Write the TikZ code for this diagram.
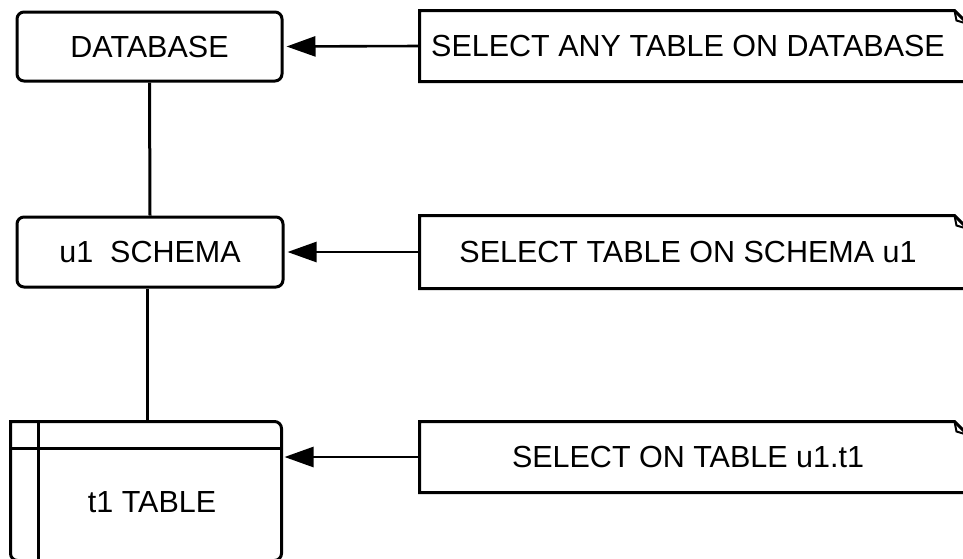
\documentclass[tikz,border=0pt]{standalone}
\usepackage{fontspec}
\setmainfont{Liberation Sans}
\usetikzlibrary{arrows.meta}

\begin{document}
\begin{tikzpicture}[x=1pt,y=-1pt,line width=3pt,
  box/.style={draw,rounded corners=7pt,minimum width=265pt,minimum height=69pt,font=\fontsize{30.5}{35}\selectfont},
  note/.style={minimum width=534pt,minimum height=68pt,font=\fontsize{30.5}{35}\selectfont},
  arr/.style={line width=2.6pt,-{Triangle[length=29pt,width=20pt]},shorten >=3pt}]
\useasboundingbox (0,0) rectangle (963,558);
\clip (0,0) rectangle (963,558);

% left column
\node[box] (db) at (149.5,46.5) {DATABASE};
\node[box,minimum width=266pt,minimum height=70pt] (schema) at (150,252) {u1\ \ SCHEMA};
\node[minimum width=268pt,minimum height=136pt] (tblbox) at (146,491) {};
\node[font=\fontsize{30.5}{35}\selectfont] (tbl) at (152,502) {t1 TABLE};
\draw[rounded corners=7pt,line cap=rect] (tblbox.north west) -- (tblbox.north east) -- (tblbox.south east) -- (tblbox.south west) -- (tblbox.north west);
\draw ([yshift=-27pt]tblbox.north west) -- ([yshift=-27pt]tblbox.north east);
\draw ([xshift=28pt]tblbox.north west) -- ([xshift=28pt]tblbox.south west);

\draw (db.south) -- (schema.north);
\draw ([xshift=-3pt]schema.south) -- ([xshift=-3pt]schema.south |- tblbox.north);

% notes
\node[note] (n1) at (688,46) {SELECT ANY TABLE ON DATABASE};
\node[note,minimum height=70pt] (n2) at (688,252) {SELECT TABLE ON SCHEMA u1};
\node[note] (n3) at (688,457) {SELECT ON TABLE u1.t1};
\foreach \n in {n1,n2,n3}{
  \draw (\n.south west) ++(560,0) -- (\n.south west) -- (\n.north west) -- ([xshift=-2pt]\n.north east) -- ++(30,30);
  \draw[line width=2pt] ([xshift=-2pt]\n.north east) -- ++(2,10) -- ++(10,3);
}

\draw[arr] (n1.west) -- (db.east);
\draw[arr] (n2.west) -- (schema.east);
\draw[arr] (n3.west) -- (n3.west -| tblbox.east);
\end{tikzpicture}
\end{document}
